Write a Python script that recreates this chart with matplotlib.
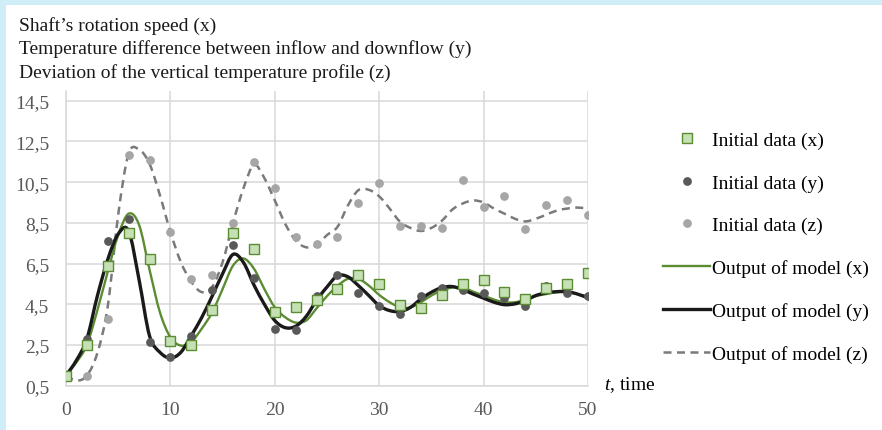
import numpy as np
import matplotlib
matplotlib.use("Agg")
import matplotlib.pyplot as plt
from matplotlib.path import Path
from matplotlib.patches import PathPatch, Rectangle
from matplotlib.lines import Line2D

plt.rcParams["font.family"] = ["Liberation Serif", "DejaVu Serif"]
plt.rcParams["mathtext.fontset"] = "custom"
plt.rcParams["mathtext.it"] = "Liberation Serif:italic"
plt.rcParams["mathtext.rm"] = "Liberation Serif"

# measured points, every 2 time units
t_obs = [0, 2, 4, 6, 8, 10, 12, 14, 16, 18, 20, 22, 24, 26, 28, 30, 32, 34, 36, 38, 40, 42, 44, 46, 48, 50]
x_obs = [1.0, 2.5, 6.4, 8.0, 6.7, 2.7, 2.5, 4.2, 8.0, 7.2, 4.1, 4.35, 4.7, 5.25, 5.95, 5.5,
         4.45, 4.3, 4.95, 5.5, 5.7, 5.1, 4.75, 5.3, 5.5, 6.05]
y_obs = [1.0, 2.8, 7.6, 8.7, 2.65, 1.9, 2.95, 5.2, 7.4, 5.8, 3.3, 3.25, 4.9, 5.95, 5.05, 4.4,
         4.0, 4.9, 5.3, 5.2, 5.05, 4.8, 4.4, 5.4, 5.05, 4.9]
z_obs = [1.0, 1.0, 3.8, 11.85, 11.6, 8.05, 5.75, 5.95, 8.5, 11.5, 10.2, 7.8, 7.45, 7.8, 9.45, 10.45,
         8.35, 8.35, 8.25, 10.6, 9.3, 9.8, 8.2, 9.4, 9.6, 8.9]

# model output, every time unit
t_mod = list(range(51))
x_mod = [1.0, 1.65, 2.5, 4.2, 6.1, 7.9, 8.95, 8.4, 6.2, 4.1, 2.88, 2.47, 2.65, 3.3, 4.1,
         5.25, 6.4, 6.75, 6.25, 5.25, 4.35, 3.86, 3.6, 3.7, 4.3, 4.9, 5.4, 5.75, 5.75,
         5.42, 4.96, 4.6, 4.35, 4.35, 4.6, 4.93, 5.17, 5.32, 5.32, 5.12, 4.93, 4.73, 4.6,
         4.6, 4.72, 4.9, 5.0, 5.09, 5.09, 5.0, 4.88]
y_mod = [1.0, 1.75, 2.8, 4.9, 6.7, 7.95, 8.1, 5.7, 2.95, 2.14, 1.86, 2.14, 2.96, 3.85, 4.9,
         6.0, 6.95, 6.55, 5.45, 4.5, 3.7, 3.35, 3.42, 3.9, 4.7, 5.35, 5.9, 5.85, 5.42,
         4.93, 4.43, 4.19, 4.14, 4.35, 4.76, 5.09, 5.32, 5.37, 5.22, 5.0, 4.8, 4.6, 4.48,
         4.52, 4.68, 4.93, 5.06, 5.12, 5.12, 5.0, 4.81]
z_mod = [1.0, 0.75, 1.0, 2.1, 4.4, 8.9, 11.9, 12.1, 11.4, 9.85, 8.05, 6.57, 5.6, 5.1, 5.35,
         6.57, 8.5, 10.2, 11.35, 10.7, 9.6, 8.45, 7.63, 7.3, 7.4, 7.9, 8.3, 9.35, 10.1,
         10.12, 9.8, 9.2, 8.55, 8.25, 8.1, 8.25, 8.6, 9.15, 9.45, 9.6, 9.5, 9.2, 8.95,
         8.7, 8.57, 8.7, 8.9, 9.1, 9.2, 9.25, 9.2]

yticks = [0.5, 2.5, 4.5, 6.5, 8.5, 10.5, 12.5, 14.5]
xticks = [0, 10, 20, 30, 40, 50]

GREEN = "#5b8c32"
GRID = "#d9d9d9"
DASH = (0, (3.2, 2.2))
FS = 14


def smooth_path(t, v):
    # Catmull-Rom segments written as cubic Bezier pieces
    pts = np.column_stack([t, v]).astype(float)
    n = len(pts)
    verts = [pts[0]]
    codes = [Path.MOVETO]
    for i in range(n - 1):
        p0 = pts[max(i - 1, 0)]
        p1 = pts[i]
        p2 = pts[i + 1]
        p3 = pts[min(i + 2, n - 1)]
        verts += [p1 + (p2 - p0) / 6, p2 - (p3 - p1) / 6, p2]
        codes += [Path.CURVE4] * 3
    return Path(verts, codes)


fig = plt.figure(figsize=(8.82, 4.31), dpi=100)
fig.patch.set_facecolor("#cfeef8")
fig.patches.append(Rectangle((6 / 882, 0), 1, 1 - 6 / 431, transform=fig.transFigure,
                             facecolor="white", edgecolor="none", zorder=-1))

ax = fig.add_axes([66 / 882, 44.3 / 431, 522 / 882, 295.2 / 431])
ax.set_facecolor("white")
ax.set_xlim(0, 50)
ax.set_ylim(0.5, 15)
ax.set_xticks(xticks)
ax.set_yticks(yticks)
ax.set_yticklabels([f"{v:.1f}".replace(".", ",") for v in yticks])
ax.tick_params(length=0, labelsize=FS, colors="#595959")
ax.tick_params(axis="y", pad=12)
ax.tick_params(axis="x", pad=11)
ax.grid(True, color=GRID, linewidth=1.1)
ax.set_axisbelow(True)
for side in ["top", "right"]:
    ax.spines[side].set_visible(False)
for side in ["left", "bottom"]:
    ax.spines[side].set_color(GRID)
    ax.spines[side].set_linewidth(1.1)

ax.add_patch(PathPatch(smooth_path(t_mod, z_mod), fill=False, edgecolor="#7a7a7a",
                       linewidth=1.8, linestyle=DASH, zorder=3))
ax.add_patch(PathPatch(smooth_path(t_mod, x_mod), fill=False, edgecolor=GREEN,
                       linewidth=1.7, zorder=3))
ax.add_patch(PathPatch(smooth_path(t_mod, y_mod), fill=False, edgecolor="#1a1a1a",
                       linewidth=2.4, zorder=3))

ax.plot(t_obs, z_obs, "o", color="#a6a6a6", markersize=6.3, markeredgewidth=0, zorder=4)
ax.plot(t_obs, y_obs, "o", color="#595959", markersize=6.3, markeredgewidth=0, zorder=4)
ax.plot(t_obs, x_obs, "s", markerfacecolor="#c5e0b4", markeredgecolor=GREEN,
        markersize=7, markeredgewidth=1, zorder=5)

ax.text(1.03, 0.005, r"$\it{t}$, time", transform=ax.transAxes, fontsize=FS,
        ha="left", va="center")

titles = ["Shaft\u2019s rotation speed (x)",
          "Temperature difference between inflow and downflow (y)",
          "Deviation of the vertical temperature profile (z)"]
for i, s in enumerate(titles):
    fig.text(19 / 882, 1 - (26 + 23.5 * i) / 431, s, fontsize=FS, va="center", ha="left",
             color="#1a1a1a")

handles = [
    Line2D([], [], linestyle="none", marker="s", markerfacecolor="#c5e0b4",
           markeredgecolor=GREEN, markersize=7, markeredgewidth=1),
    Line2D([], [], linestyle="none", marker="o", color="#595959", markersize=6.3,
           markeredgewidth=0),
    Line2D([], [], linestyle="none", marker="o", color="#a6a6a6", markersize=6.3,
           markeredgewidth=0),
    Line2D([], [], color=GREEN, linewidth=1.7),
    Line2D([], [], color="#1a1a1a", linewidth=2.4),
    Line2D([], [], color="#7a7a7a", linewidth=1.8, linestyle=DASH),
]
labels = ["Initial data (x)", "Initial data (y)", "Initial data (z)",
          "Output of model (x)", "Output of model (y)", "Output of model (z)"]
fig.legend(handles, labels, loc="center left", bbox_to_anchor=(663 / 882, 1 - 248 / 431),
           frameon=False, fontsize=FS, handlelength=2.42, handletextpad=0.1,
           labelspacing=1.28, borderpad=0, borderaxespad=0)

fig.savefig("out.png", dpi=100, facecolor=fig.get_facecolor())
